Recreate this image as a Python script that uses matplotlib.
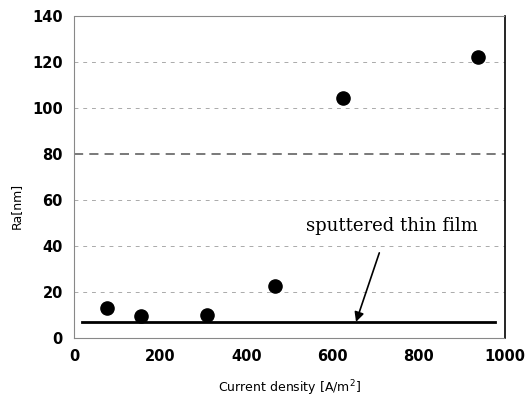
import matplotlib.pyplot as plt
import numpy as np

# datos
corriente = [77, 155, 309, 466, 624, 936]
ra = [13, 9.6, 10, 22.6, 104.5, 122]
film_x = [19, 977]
film_ra = [7, 7]
yticks = [0, 20, 40, 60, 80, 100, 120, 140]
xticks = [0, 200, 400, 600, 800, 1000]

fig = plt.figure(figsize=(5.29, 3.99), dpi=100)
ax = fig.add_axes([0.140, 0.153, 0.815, 0.807])

# lineas de grilla
for yv in yticks[1:-1]:
    if yv == 80:
        ax.axhline(yv, color='#555555', lw=1.1, ls=(0, (6, 4)), zorder=1)
    else:
        ax.axhline(yv, color='#aaaaaa', lw=0.7, ls=(0, (4, 5)), zorder=1)

ax.plot(film_x, film_ra, color='black', lw=2, zorder=2)
ax.scatter(corriente, ra, s=90, color='black', zorder=3)

# flecha y texto
ax.annotate('', xy=(654, 7), xytext=(708, 37),
            arrowprops=dict(arrowstyle='-|>', color='black', lw=1.2,
                            mutation_scale=14, shrinkA=0, shrinkB=0))
ax.text(738, 48.5, 'sputtered thin film', fontsize=13, family='DejaVu Serif',
        ha='center', va='center')

ax.set_xlim(0, 1000)
ax.set_ylim(0, 140)
ax.set_xticks(xticks)
ax.set_yticks(yticks)
ax.tick_params(length=0, pad=8, labelsize=10.5)
for lbl in ax.get_xticklabels() + ax.get_yticklabels():
    lbl.set_fontweight('bold')

for s in ['left', 'top', 'bottom']:
    ax.spines[s].set_color('#888888')
    ax.spines[s].set_linestyle((0, (1, 1)))
    ax.spines[s].set_linewidth(0.8)
ax.spines['right'].set_color('black')
ax.spines['right'].set_linewidth(1.2)

ax.set_xlabel('Current density [A/m$^2$]', fontsize=9, labelpad=10)
ax.set_ylabel('Ra[nm]', fontsize=9)
ax.yaxis.set_label_coords(-0.12, 0.41)

fig.savefig('out.png', dpi=100)
